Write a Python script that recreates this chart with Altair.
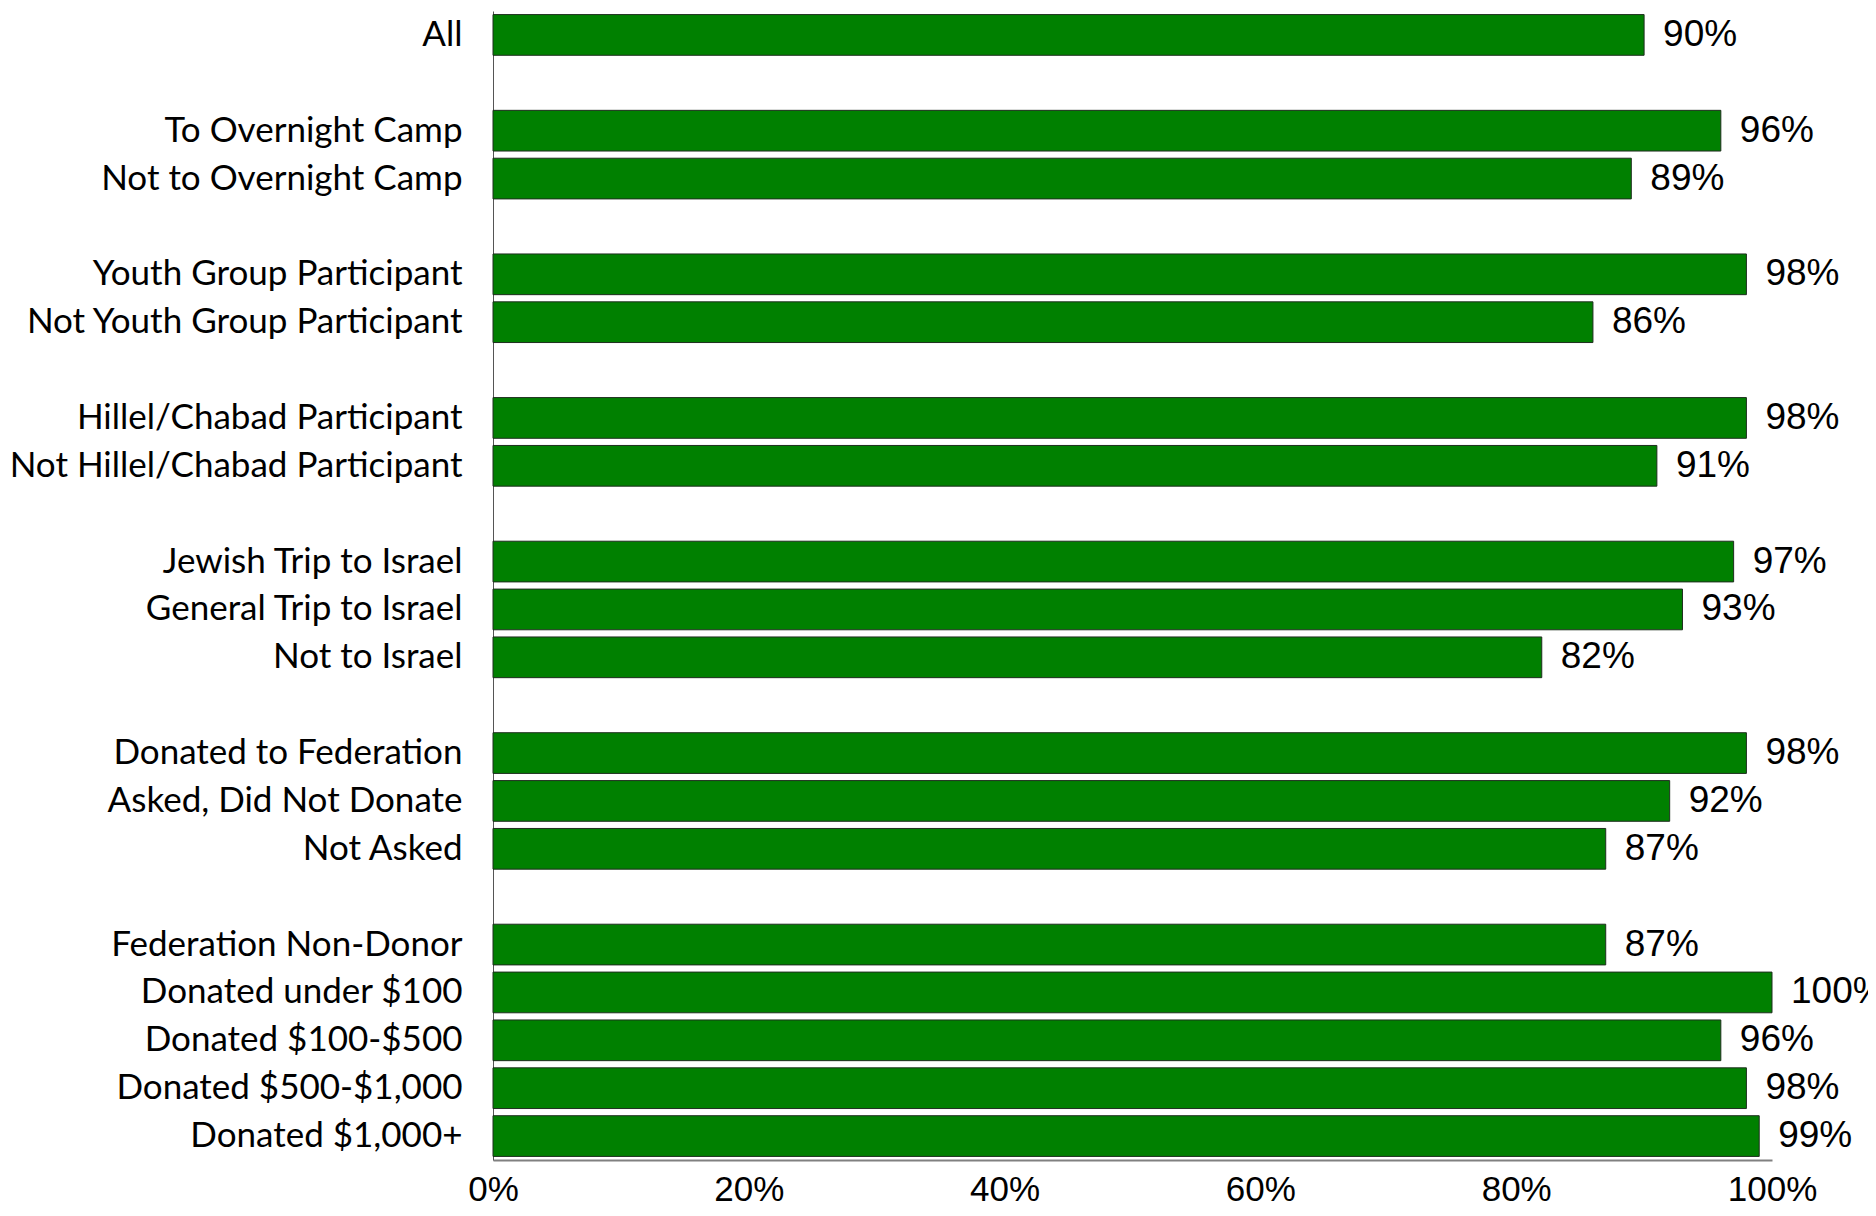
import altair as alt
import pandas as pd

categories = [
    "All",
    "To Overnight Camp", "Not to Overnight Camp",
    "Youth Group Participant", "Not Youth Group Participant",
    "Hillel/Chabad Participant", "Not Hillel/Chabad Participant",
    "Jewish Trip to Israel", "General Trip to Israel", "Not to Israel",
    "Donated to Federation", "Asked, Did Not Donate", "Not Asked",
    "Federation Non-Donor", "Donated under $100", "Donated $100-$500",
    "Donated $500-$1,000", "Donated $1,000+",
]
values = [90, 96, 89, 98, 86, 98, 91, 97, 93, 82, 98, 92, 87, 87, 100, 96, 98, 99]
group_sizes = [1, 2, 2, 2, 3, 3, 5]
x_ticks = [0, 20, 40, 60, 80, 100]

# build row order with blank spacer rows between groups
row_order = []
i = 0
for g, n in enumerate(group_sizes):
    if g > 0:
        row_order.append(" " * g)
    row_order.extend(categories[i:i + n])
    i += n

df = pd.DataFrame({
    "category": categories,
    "value": values,
    "label": [f"{v}%" for v in values],
})

W, H = 1279, 1149
y_enc = alt.Y(
    "category:N",
    sort=row_order,
    scale=alt.Scale(domain=row_order, paddingInner=0.15, paddingOuter=0.075),
    axis=alt.Axis(
        title=None, ticks=False, labelPadding=31, labelFont="Lato",
        labelFontSize=35, labelColor="#000000", labelLimit=600,
        domainColor="#555555", domainWidth=1,
    ),
)
x_enc = alt.X(
    "value:Q",
    scale=alt.Scale(domain=[0, 100], nice=False),
    axis=alt.Axis(
        title=None, values=x_ticks, ticks=False, grid=False,
        labelExpr="datum.value + '%'", labelFont="Liberation Sans",
        labelFontSize=35, labelColor="#000000", labelPadding=12,
        domainColor="#808080", domainWidth=2, labelFlush=False,
    ),
)

bars = alt.Chart(df).mark_bar(
    color="#008000", stroke="#1e2e1e", strokeWidth=1
).encode(x=x_enc, y=y_enc)

text = alt.Chart(df).mark_text(
    align="left", baseline="middle", dx=19, font="Liberation Sans",
    fontSize=37, color="#000000"
).encode(x="value:Q", y=alt.Y("category:N", sort=row_order), text="label:N")

chart = (
    alt.layer(bars, text)
    .properties(
        width=W, height=H,
        background="#ffffff",
        autosize=alt.AutoSizeParams(type="none"),
        padding={"left": 485, "top": 3, "right": 96, "bottom": 48},
    )
    .configure_view(strokeWidth=0, strokeOpacity=0)
)

chart.save("out.html", embed_options={"renderer": "svg", "actions": False})
